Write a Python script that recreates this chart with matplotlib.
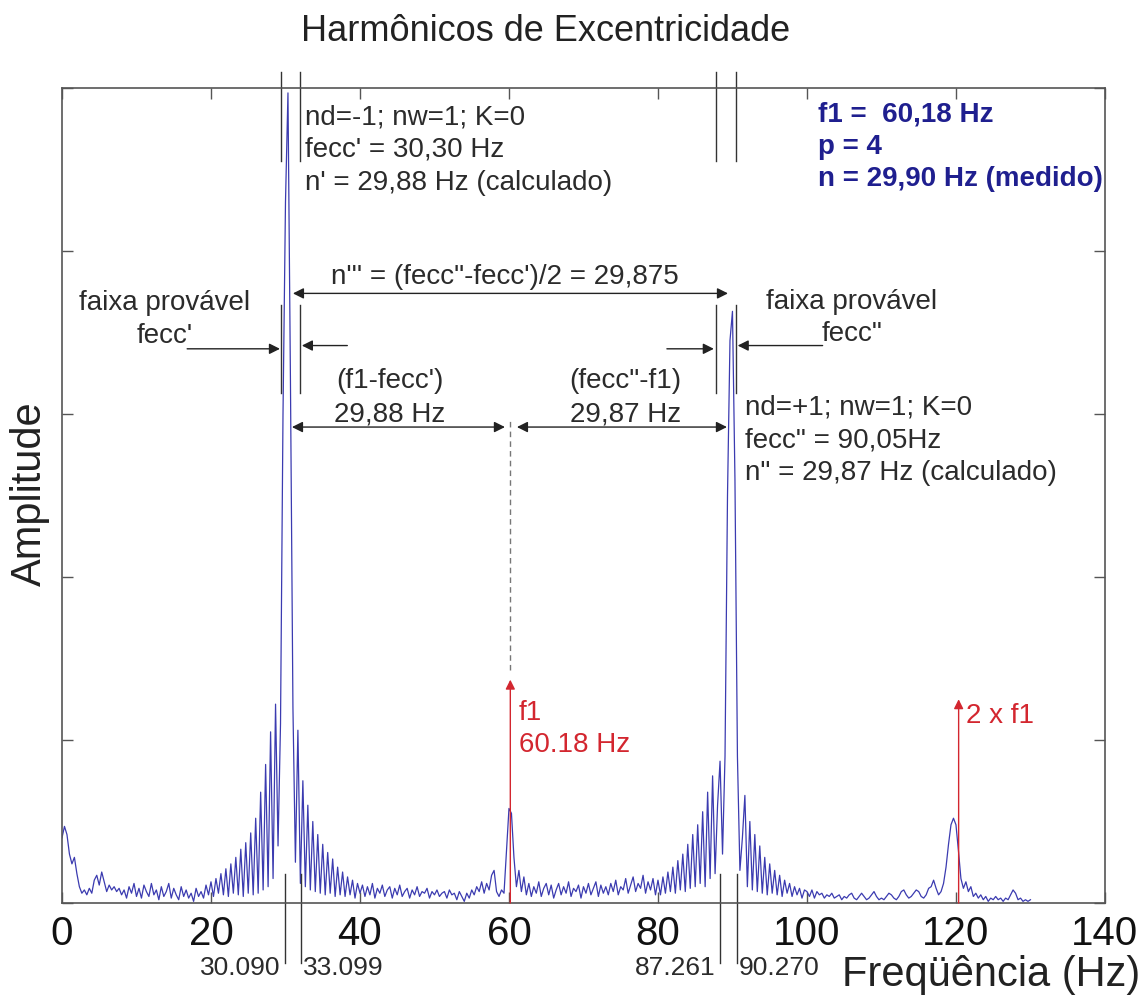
import numpy as np
import matplotlib
matplotlib.use("Agg")
import matplotlib.pyplot as plt

plt.rcParams["font.family"] = ["Liberation Sans", "DejaVu Sans"]

# spectrum, one value every 1/3 Hz (amplitude in arbitrary units, 0..5)
FREQ_STEP = 1.0 / 3.0
amp_00_20 = [
    0.40, 0.47, 0.42, 0.30, 0.24, 0.28, 0.18, 0.10, 0.06, 0.08,
    0.05, 0.09, 0.06, 0.14, 0.17, 0.11, 0.19, 0.13, 0.07, 0.11,
    0.08, 0.10, 0.07, 0.09, 0.05, 0.08, 0.03, 0.10, 0.06, 0.12,
    0.04, 0.09, 0.03, 0.11, 0.07, 0.04, 0.12, 0.05, 0.08, 0.02,
    0.10, 0.04, 0.07, 0.12, 0.03, 0.09, 0.05, 0.02, 0.10, 0.04,
    0.08, 0.03, 0.06, 0.01, 0.09, 0.04, 0.07, 0.03, 0.11, 0.05,
]
amp_20_40 = [
    0.13, 0.04, 0.15, 0.06, 0.18, 0.05, 0.21, 0.04, 0.24, 0.06,
    0.28, 0.05, 0.33, 0.04, 0.37, 0.06, 0.43, 0.05, 0.52, 0.06,
    0.68, 0.08, 0.85, 0.10, 1.05, 0.15, 1.22, 0.35, 1.10, 3.00,
    4.30, 4.97, 3.20, 1.20, 0.25, 1.06, 0.12, 0.75, 0.10, 0.60,
    0.08, 0.50, 0.07, 0.42, 0.06, 0.36, 0.05, 0.31, 0.06, 0.27,
    0.04, 0.22, 0.05, 0.19, 0.04, 0.16, 0.05, 0.14, 0.03, 0.12,
]
amp_40_60 = [
    0.06, 0.11, 0.04, 0.10, 0.05, 0.12, 0.03, 0.09, 0.06, 0.11,
    0.04, 0.08, 0.10, 0.03, 0.09, 0.05, 0.11, 0.04, 0.07, 0.09,
    0.03, 0.08, 0.05, 0.10, 0.04, 0.07, 0.06, 0.09, 0.03, 0.07,
    0.05, 0.08, 0.04, 0.06, 0.07, 0.03, 0.08, 0.05, 0.06, 0.02,
    0.07, 0.04, 0.01, 0.06, 0.03, 0.08, 0.05, 0.10, 0.07, 0.13,
    0.06, 0.12, 0.08, 0.17, 0.20, 0.07, 0.04, 0.08, 0.06, 0.32,
]
amp_60_80 = [
    0.58, 0.55, 0.28, 0.10, 0.20, 0.07, 0.16, 0.05, 0.12, 0.04,
    0.10, 0.06, 0.13, 0.04, 0.09, 0.12, 0.05, 0.11, 0.03, 0.08,
    0.12, 0.05, 0.10, 0.06, 0.13, 0.04, 0.09, 0.07, 0.11, 0.03,
    0.10, 0.06, 0.12, 0.05, 0.09, 0.13, 0.04, 0.11, 0.06, 0.10,
    0.05, 0.12, 0.07, 0.14, 0.05, 0.10, 0.08, 0.15, 0.06, 0.11,
    0.16, 0.07, 0.12, 0.09, 0.17, 0.06, 0.13, 0.08, 0.15, 0.05,
]
amp_80_100 = [
    0.14, 0.05, 0.16, 0.06, 0.19, 0.07, 0.22, 0.06, 0.26, 0.08,
    0.30, 0.07, 0.36, 0.09, 0.42, 0.10, 0.48, 0.12, 0.56, 0.10,
    0.68, 0.15, 0.78, 0.18, 0.60, 0.87, 0.30, 0.90, 2.50, 3.45,
    3.63, 2.60, 0.90, 0.20, 0.40, 0.66, 0.10, 0.50, 0.08, 0.42,
    0.07, 0.35, 0.06, 0.28, 0.05, 0.24, 0.06, 0.20, 0.05, 0.17,
    0.04, 0.14, 0.06, 0.12, 0.04, 0.10, 0.05, 0.09, 0.03, 0.08,
]
amp_100_120 = [
    0.07, 0.04, 0.08, 0.03, 0.07, 0.05, 0.06, 0.03, 0.05, 0.04,
    0.06, 0.03, 0.04, 0.05, 0.02, 0.04, 0.03, 0.05, 0.06, 0.03,
    0.02, 0.04, 0.06, 0.04, 0.02, 0.03, 0.05, 0.07, 0.04, 0.02,
    0.03, 0.02, 0.04, 0.06, 0.05, 0.03, 0.02, 0.04, 0.07, 0.08,
    0.05, 0.03, 0.04, 0.06, 0.08, 0.07, 0.04, 0.03, 0.05, 0.09,
    0.10, 0.14, 0.09, 0.05, 0.07, 0.12, 0.22, 0.36, 0.48, 0.52,
]
amp_120_130 = [
    0.48, 0.32, 0.15, 0.09, 0.13, 0.07, 0.10, 0.04, 0.06, 0.03,
    0.05, 0.02, 0.04, 0.01, 0.03, 0.02, 0.04, 0.02, 0.03, 0.01,
    0.03, 0.02, 0.05, 0.08, 0.06, 0.02, 0.03, 0.01, 0.02, 0.01,
    0.02,
]

f1 = 60.18
harmonics = [f1, 2 * f1]
harmonic_labels = ["f1\n60.18 Hz", "2 x f1"]
band_marks = [30.090, 33.099, 87.261, 90.270]
band_labels = ["30.090", "33.099", "87.261", "90.270"]
x_ticks = [0, 20, 40, 60, 80, 100, 120, 140]

amp = np.array(amp_00_20 + amp_20_40 + amp_40_60 + amp_60_80
               + amp_80_100 + amp_100_120 + amp_120_130)
freq = np.arange(len(amp)) * FREQ_STEP

TXT = "#2b2b2b"
RED = "#d3262f"
NAVY = "#1f1f8f"

fig = plt.figure(figsize=(11.48, 9.98), dpi=100)
ax = fig.add_axes([0.054, 0.0952, 0.9085, 0.8166])

ax.plot(freq, amp, color="#3b3bb0", lw=0.9)

ax.set_xlim(0, 140)
ax.set_ylim(0, 5)
ax.set_xticks(x_ticks)
ax.set_yticks(range(6))
ax.set_yticklabels([])
ax.tick_params(direction="in", length=8, width=1, color="#555555",
               top=True, right=True, labelsize=29, pad=9, labelcolor="#111111")
for s in ax.spines.values():
    s.set_color("#555555")
    s.set_linewidth(1.2)

fig.text(0.475, 0.968, "Harmônicos de Excentricidade", ha="center", va="center",
         fontsize=26, color="#222222")
fig.text(0.026, 0.505, "Amplitude", rotation=90, ha="center", va="center",
         fontsize=30, color="#222222")
fig.text(0.993, 0.023, "Freqüência (Hz)", ha="right", va="center",
         fontsize=30, color="#222222")

lk = dict(color="#333333", lw=1.0, clip_on=False)
arrow = dict(arrowstyle="-|>", color="#222222", lw=1.0, mutation_scale=16,
             shrinkA=0, shrinkB=0)
darrow = dict(arrow, arrowstyle="<|-|>")

# band marker lines at the top of the plot
for x in [29.40, 31.95, 87.79, 90.47]:
    ax.plot([x, x], [4.55, 5.10], **lk)
    ax.plot([x, x], [3.13, 3.67], **lk)

# arrows for the probable band of each eccentricity harmonic
ax.annotate("", xy=(29.26, 3.40), xytext=(16.8, 3.40), arrowprops=arrow)
ax.annotate("", xy=(32.2, 3.42), xytext=(38.3, 3.42), arrowprops=arrow)
ax.annotate("", xy=(87.5, 3.40), xytext=(81.2, 3.40), arrowprops=arrow)
ax.annotate("", xy=(90.7, 3.42), xytext=(102.1, 3.42), arrowprops=arrow)

# distance arrows
ax.annotate("", xy=(31.0, 3.74), xytext=(89.4, 3.74), arrowprops=darrow)
ax.annotate("", xy=(30.87, 2.92), xytext=(59.46, 2.92), arrowprops=darrow)
ax.annotate("", xy=(61.07, 2.92), xytext=(89.26, 2.92), arrowprops=darrow)
ax.plot([f1, f1], [1.43, 2.96], color="#777777", lw=1.0, ls=(0, (4, 3)))

# supply frequency and its second harmonic
red_arrow = dict(arrowstyle="-|>", color=RED, lw=1.0, mutation_scale=14,
                 shrinkA=0, shrinkB=0)
tips = [1.37, 1.25]
for h, tip in zip(harmonics, tips):
    ax.annotate("", xy=(h, tip), xytext=(h, 0), arrowprops=red_arrow)
ax.text(f1 + 1.1, 1.07, harmonic_labels[0], color=RED, fontsize=20,
        ha="left", va="center", linespacing=1.3)
ax.text(2 * f1 + 1.0, 1.15, harmonic_labels[1], color=RED, fontsize=20,
        ha="left", va="center")

# band limit values under the axis
mark_px = [29.93, 32.08, 88.32, 90.6]
for x, v, lab in zip(mark_px, band_marks, band_labels):
    ax.plot([x, x], [0.18, -0.37], **lk)
    left = v < 31 or 85 < v < 88
    ax.text(x - 0.6 if left else x + 0.3, -0.40, lab, fontsize=19, color=TXT,
            ha="right" if left else "left", va="center", clip_on=False)

tk = dict(fontsize=20, color=TXT, linespacing=1.33)
ax.text(32.6, 4.62, "nd=-1; nw=1; K=0\nfecc' = 30,30 Hz\nn' = 29,88 Hz (calculado)",
        ha="left", va="center", **tk)
ax.text(91.7, 2.84, "nd=+1; nw=1; K=0\nfecc\" = 90,05Hz\nn\" = 29,87 Hz (calculado)",
        ha="left", va="center", **tk)
ax.text(101.5, 4.64, "f1 =  60,18 Hz\np = 4\nn = 29,90 Hz (medido)",
        ha="left", va="center", fontsize=20, color=NAVY, fontweight="bold",
        linespacing=1.3)
ax.text(59.46, 3.84, "n''' = (fecc\"-fecc')/2 = 29,875", ha="center", va="center", **tk)
ax.text(44.0, 3.10, "(f1-fecc')\n29,88 Hz", ha="center", va="center", **tk)
ax.text(75.6, 3.10, "(fecc\"-f1)\n29,87 Hz", ha="center", va="center", **tk)
ax.text(13.8, 3.58, "faixa provável\nfecc'", ha="center", va="center", **tk)
ax.text(106.0, 3.59, "faixa provável\nfecc\"", ha="center", va="center", **tk)

fig.savefig("out.png", dpi=100)
